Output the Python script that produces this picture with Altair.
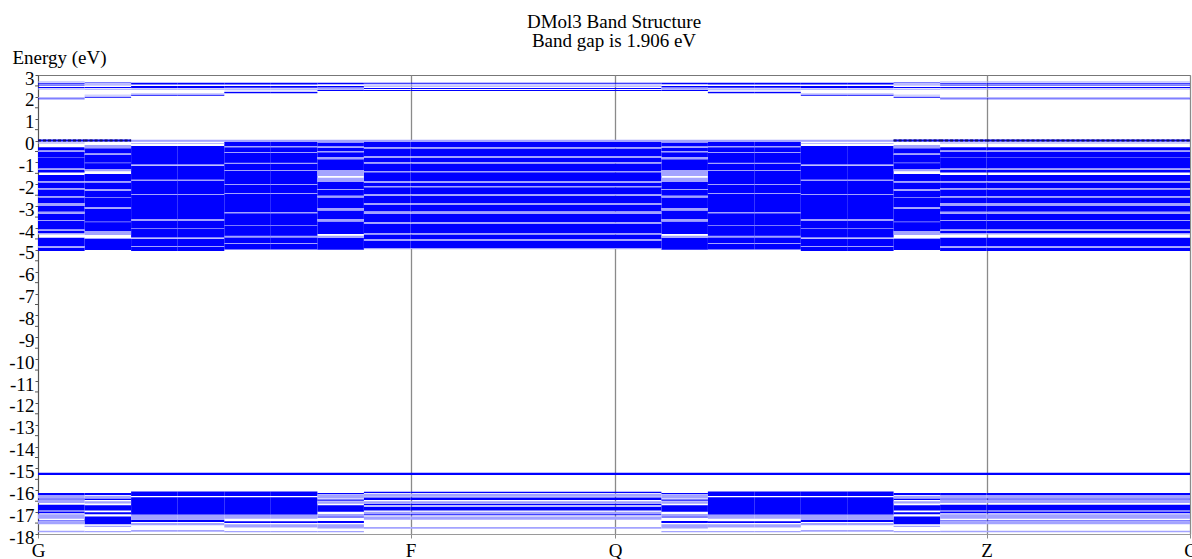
import altair as alt
import pandas as pd

# ---- k-path (distance along path) ----
k_points = [0.0, 0.0466, 0.0931, 0.1397, 0.1863, 0.2328, 0.2794, 0.3259, 0.3725,
            0.5770, 0.6234, 0.6699, 0.7163, 0.7628, 0.8092, 0.8556, 0.9021, 0.9485, 1.1520]
hs_k = [0.0, 0.3725, 0.5770, 0.9485, 1.1520]
hs_labels = ["G", "F", "Q", "Z", "C"]
interval_patterns = ["A0", "A1", "B1", "B1", "B2", "B2", "C1", "C2",
                     "C2",
                     "C2", "C1", "B2", "B2", "B1", "B1", "A1", "A0",
                     "A0"]

# ---- band energy ranges (eV) per k-interval pattern: (upper, lower) ----
A0_solid = [(2.62, 2.58), (2.55, 2.52), (2.45, 2.41), (1.93, 1.89),
            (-0.30, -0.45), (-0.52, -1.28), (-1.35, -1.46), (-1.57, -1.85), (-1.92, -2.17),
            (-2.24, -2.54), (-2.60, -2.86), (-2.99, -3.26), (-3.35, -4.07), (-4.14, -4.23),
            (-4.45, -4.82), (-4.90, -5.05),
            (-16.12, -16.22), (-16.38, -16.42), (-16.66, -16.92), (-16.97, -17.05), (-17.38, -17.42)]
A0_light = [(2.70, 2.66), (2.38, 2.34), (1.98, 1.95),
            (-0.09, -0.13), (-0.45, -0.52), (-0.75, -0.78), (-1.28, -1.35), (-1.85, -1.92),
            (-2.17, -2.24), (-2.54, -2.60), (-2.86, -2.99), (-3.26, -3.35), (-3.63, -3.68),
            (-4.07, -4.14), (-4.23, -4.30), (-4.82, -4.90),
            (-16.22, -16.36), (-16.45, -16.58), (-17.10, -17.30), (-17.42, -17.55), (-17.85, -17.92)]

A1_solid = [(2.66, 2.62), (2.45, 2.41), (2.00, 1.96),
            (-0.35, -0.59), (-0.66, -1.30), (-1.53, -1.85), (-1.92, -2.21), (-2.30, -3.04),
            (-3.12, -4.14), (-4.50, -5.01),
            (-16.12, -16.22), (-16.38, -16.44), (-16.68, -16.92), (-17.00, -17.10), (-17.20, -17.55)]
A1_light = [(2.58, 2.52), (2.37, 2.33), (2.10, 2.06),
            (-0.20, -0.35), (-0.59, -0.66), (-1.00, -1.04), (-1.30, -1.40), (-1.85, -1.92),
            (-2.21, -2.30), (-2.58, -2.62), (-3.04, -3.12), (-3.70, -3.74), (-4.14, -4.32),
            (-4.46, -4.50),
            (-16.25, -16.36), (-16.50, -16.60), (-17.62, -17.68), (-17.86, -17.92)]

B1_solid = [(2.65, 2.56), (2.50, 2.40), (2.10, 2.05),
            (-0.25, -1.09), (-1.15, -4.43), (-4.49, -5.05),
            (-16.05, -16.26), (-16.32, -17.12), (-17.35, -17.45)]
B1_light = [(2.38, 2.33), (2.15, 2.11),
            (0.0, -0.05), (-0.12, -0.16), (-1.78, -1.85), (-2.44, -2.49), (-3.59, -3.68),
            (-4.00, -4.04), (-4.82, -4.87),
            (-17.12, -17.35), (-17.50, -17.60), (-17.82, -17.90)]

B2_solid = [(2.65, 2.56), (2.50, 2.42), (2.22, 2.16),
            (-0.06, -4.98),
            (-16.05, -16.26), (-16.32, -17.12), (-17.42, -17.50)]
B2_light = [(2.38, 2.32), (2.28, 2.24),
            (0.0, -0.06), (-0.25, -0.32), (-0.52, -0.57), (-1.02, -1.07), (-1.35, -1.39),
            (-1.99, -2.03), (-2.40, -2.44), (-3.27, -3.34), (-3.87, -3.91), (-4.36, -4.45),
            (-4.69, -4.73),
            (-17.12, -17.30), (-17.55, -17.70), (-17.86, -17.92)]

C1_solid = [(2.64, 2.58), (2.50, 2.43), (2.32, 2.27),
            (-0.09, -0.27), (-0.33, -0.48), (-0.54, -0.75), (-0.85, -1.35), (-1.89, -2.21),
            (-2.26, -2.53), (-2.60, -3.08), (-3.20, -3.59), (-3.70, -4.27), (-4.45, -5.00),
            (-16.12, -16.18), (-16.42, -16.48), (-16.68, -16.98), (-17.20, -17.25), (-17.40, -17.50)]
C1_light = [(2.40, 2.35),
            (0.0, -0.09), (-0.27, -0.33), (-0.48, -0.54), (-0.75, -0.85), (-1.35, -1.62),
            (-1.70, -1.89), (-2.21, -2.26), (-2.53, -2.60), (-3.08, -3.20), (-3.59, -3.70),
            (-4.36, -4.45),
            (-16.20, -16.38), (-16.50, -16.62), (-17.08, -17.18), (-17.55, -17.75), (-17.86, -17.92)]

C2_solid = [(2.64, 2.60), (2.40, 2.36), (2.31, 2.27),
            (-0.06, -0.29), (-0.36, -0.71), (-0.80, -0.98), (-1.05, -1.39), (-1.45, -1.85),
            (-1.94, -2.08), (-2.14, -2.44), (-2.52, -2.86), (-2.95, -3.24), (-3.36, -3.74),
            (-3.82, -4.23), (-4.30, -4.50), (-4.59, -4.91),
            (-16.07, -16.12), (-16.33, -16.45), (-16.62, -16.68), (-16.75, -16.92), (-17.10, -17.14)]
C2_light = [(2.56, 2.52), (2.49, 2.45),
            (0.0, -0.06), (-0.29, -0.36), (-0.71, -0.80), (-0.98, -1.05), (-1.39, -1.45),
            (-1.85, -1.94), (-2.08, -2.14), (-2.44, -2.52), (-2.86, -2.95), (-3.24, -3.36),
            (-3.74, -3.82), (-4.23, -4.30), (-4.50, -4.59), (-4.91, -4.97),
            (-16.16, -16.30), (-16.50, -16.60), (-16.98, -17.08), (-17.20, -17.35), (-17.68, -17.76)]

flat_core_bands = [-15.23, -15.27]
vbm_energy = [0.0]
y_label_values = [3, 2, 1, 0, -1, -2, -3, -4, -5, -6, -7, -8, -9, -10, -11, -12, -13, -14,
                  -15, -16, -17, -18]
y_minor_values = [2.5, 1.5, 0.5, -0.5, -1.5, -2.5, -3.5, -4.5, -5.5, -6.5, -7.5, -8.5, -9.5,
                  -10.5, -11.5, -12.5, -13.5, -14.5, -15.5, -16.5, -17.5]

patterns = {
    "A0": (A0_solid, A0_light), "A1": (A1_solid, A1_light),
    "B1": (B1_solid, B1_light), "B2": (B2_solid, B2_light),
    "C1": (C1_solid, C1_light), "C2": (C2_solid, C2_light),
}

rows = []
for i, pat in enumerate(interval_patterns):
    k0, k1 = k_points[i], k_points[i + 1]
    for kind, ranges in (("solid", patterns[pat][0]), ("light", patterns[pat][1])):
        for top, bot in ranges:
            rows.append(dict(k0=k0, k1=k1, e_top=top, e_bot=bot, kind=kind))
bands = pd.DataFrame(rows)

vbm_rows = [dict(k0=k_points[i], k1=k_points[i + 1], e_top=vbm_energy[0])
            for i, p in enumerate(interval_patterns) if p in ("A0", "A1")]
vbm_df = pd.DataFrame(vbm_rows)
full_df = pd.DataFrame([dict(k0=hs_k[0], k1=hs_k[-1], e_top=e) for e in flat_core_bands])
zero_df = pd.DataFrame([dict(k0=hs_k[0], k1=hs_k[-1], e_top=vbm_energy[0])])
minor_df = pd.DataFrame({"e_top": y_minor_values})

FONT = "Liberation Serif"
xscale = alt.Scale(domain=[hs_k[0], hs_k[-1]], nice=False, zero=False)
yscale = alt.Scale(domain=[-18, 3], nice=False, zero=False)

label_expr = "".join(f"datum.value == {k} ? '{l}' : " for k, l in zip(hs_k, hs_labels)) + "''"

x_axis = alt.Axis(values=hs_k, labelExpr=label_expr, title=None, grid=True,
                  gridColor="#8a8a8a", gridWidth=1.3, domainColor="#9a9a9a", tickColor="#8a8a8a",
                  tickSize=4, labelFont=FONT, labelFontSize=19, labelColor="black",
                  labelBaseline="alphabetic", labelPadding=18, labelFlush=False, labelOverlap=False)
y_axis = alt.Axis(values=y_label_values,
                  labelExpr="(datum.value < 0 ? '-' : '') + format(abs(datum.value), 'd')",
                  title="Energy (eV)", titleAngle=0, titleAlign="left", titleBaseline="alphabetic",
                  titleX=-26, titleY=-12, titleFont=FONT, titleFontSize=19, titleFontWeight="normal",
                  titleColor="black", grid=False, domainColor="#555", tickColor="#555", tickSize=3,
                  labelFont=FONT, labelFontSize=19, labelColor="black", labelPadding=1,
                  labelOffset=3, labelOverlap=False, labelFlush=False, labelBound=False,
                  labelSeparation=0)


def xq():
    return alt.X("k0:Q", scale=xscale, axis=x_axis)


def yq():
    return alt.Y("e_top:Q", scale=yscale, axis=y_axis)


solid = alt.Chart(bands).transform_filter("datum.kind == 'solid'").mark_rect(
    color="#0000ff", clip=True).encode(x=xq(), x2="k1:Q", y=yq(), y2="e_bot:Q")

light = alt.Chart(bands).transform_filter("datum.kind == 'light'").mark_rect(
    color="#a3a3ff", clip=True).encode(x=xq(), x2="k1:Q", y=yq(), y2="e_bot:Q")

zero_line = alt.Chart(zero_df).mark_rule(color="#a3a3ff", strokeWidth=1.5).encode(
    x=xq(), x2="k1:Q", y=yq())

core_lines = alt.Chart(full_df).mark_rule(color="#0000ff", strokeWidth=1.2).encode(
    x=xq(), x2="k1:Q", y=yq())

vbm_base = alt.Chart(vbm_df).mark_rule(color="#0000ff", strokeWidth=2).encode(
    x=xq(), x2="k1:Q", y=yq())
vbm_dash = alt.Chart(vbm_df).mark_rule(color="#14145a", strokeWidth=2, strokeDash=[3, 2]).encode(
    x=xq(), x2="k1:Q", y=yq())

minor_ticks = alt.Chart(minor_df).mark_rule(color="#555", strokeWidth=1).encode(
    x=alt.value(-3), x2=alt.value(0), y=yq())

chart = alt.layer(solid, light, zero_line, core_lines, vbm_base, vbm_dash, minor_ticks).properties(
    width=1152, height=459,
    autosize="none",
    padding={"left": 38, "top": 75, "right": 2, "bottom": 25},
    title=alt.TitleParams(text=["DMol3 Band Structure", "Band gap is 1.906 eV"],
                          font=FONT, fontSize=19, fontWeight="normal", color="black",
                          anchor="middle", lineHeight=19, offset=-3),
).configure_view(stroke="#777", strokeWidth=1).configure_axisY(labelOverlap=False)

chart.save("out.html", embed_options={"renderer": "svg", "actions": False})
